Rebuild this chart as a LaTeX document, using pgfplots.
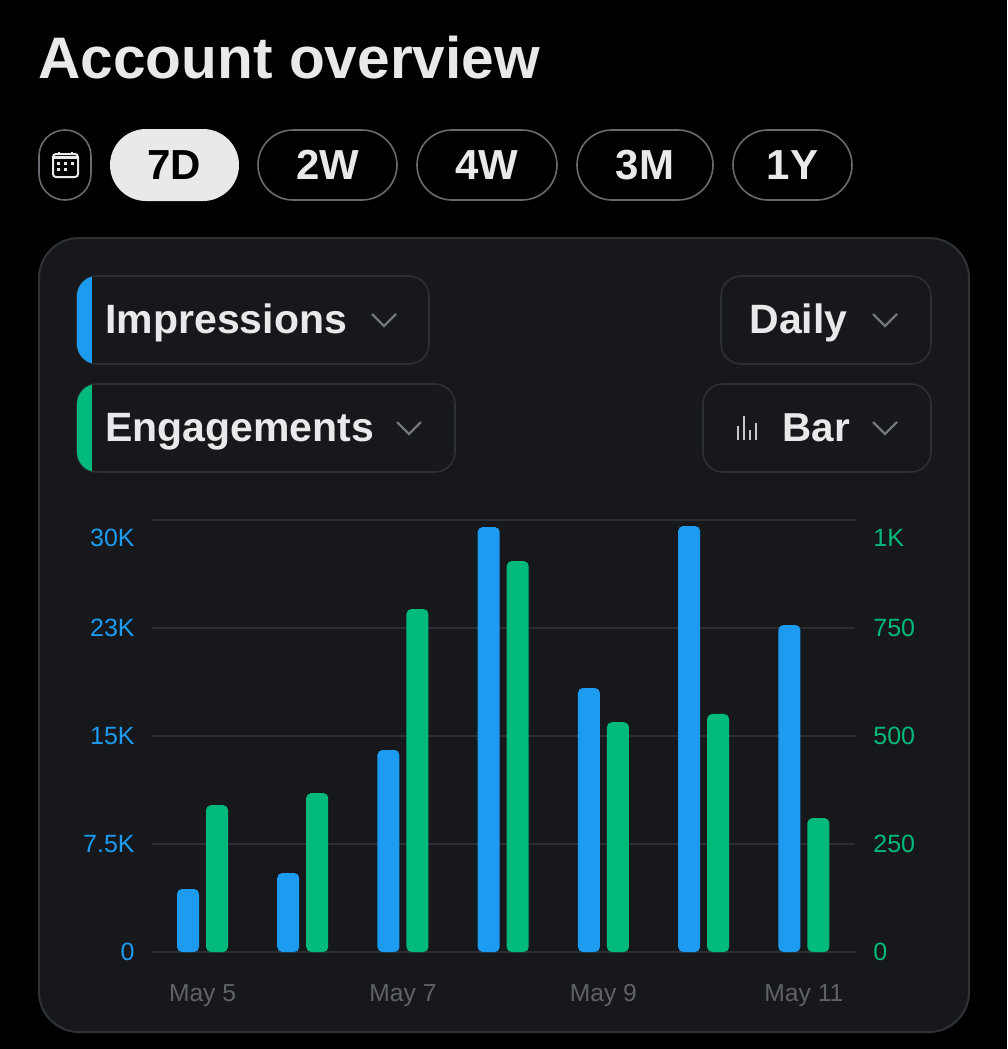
\documentclass[border=0pt]{standalone}
\usepackage{pgfplots}
\usepackage{fontspec}
\pgfplotsset{compat=1.18}
\setmainfont{Liberation Sans}
\definecolor{tw}{HTML}{E7E9EA}
\definecolor{card}{HTML}{16181C}
\definecolor{bord}{HTML}{2F3336}
\definecolor{ddb}{HTML}{2C2F33}
\definecolor{gridc}{HTML}{2B2E32}
\definecolor{pillb}{HTML}{686C70}
\definecolor{chev}{HTML}{71767B}
\definecolor{icon}{HTML}{C4C6C8}
\definecolor{xblue}{HTML}{1D9BF0}
\definecolor{xgreen}{HTML}{00BA7C}
\definecolor{xtick}{HTML}{5F6368}
\newcommand{\ui}[1]{\fontsize{#1}{#1}\selectfont}
\begin{document}
\begin{tikzpicture}
\begin{scope}[x=0.5pt,y=-0.5pt]
\fill[black] (0,0) rectangle (1007,1049);
\node[anchor=base west,inner sep=0pt,text=tw] at (38,78) {\bfseries\ui{29.3pt}Account overview};
% range pills
\draw[pillb,line width=0.8pt,rounded corners=13pt] (39,130) rectangle (91,200);
\fill[tw,rounded corners=18pt] (110,129) rectangle (239,201);
\foreach \a/\b/\t in {258/397/2W,417/557/4W,577/713/3M,733/852/1Y}{
  \draw[pillb,line width=0.8pt,rounded corners=17.5pt] (\a,130) rectangle (\b,200);
  \node[text=tw,inner sep=0pt] at ({(\a+\b)/2},165) {\bfseries\ui{21pt}\t};
}
\node[text=black,inner sep=0pt] at (174,165) {\bfseries\ui{21pt}7D};
% calendar icon
\draw[tw,line width=1pt,rounded corners=1.5pt] (53,154) rectangle (78,177);
\draw[tw,line width=1.6pt] (53,157.5) -- (78,157.5);
\draw[tw,line width=1pt] (59,151.5) -- (59,155) (72,151.5) -- (72,155);
\foreach \x/\y in {58.5/163.5,65.5/163.5,72.5/163.5,58.5/169.5,65.5/169.5}{\fill[tw] (\x-1.7,\y-1.7) rectangle (\x+1.7,\y+1.7);}
% card
\draw[bord,fill=card,line width=1pt,rounded corners=20pt] (39,238) rectangle (969,1032);
% dropdowns
\foreach \a/\b/\c/\d in {77/429/276/364,77/455/384/472,721/931/276/364,703/931/384/472}{
  \draw[ddb,line width=0.8pt,rounded corners=10pt] (\a,\c) rectangle (\b,\d);
}
\begin{scope}
\clip[rounded corners=10pt] (77,276) rectangle (429,364);
\fill[xblue] (77,276) rectangle (92,364);
\end{scope}
\begin{scope}
\clip[rounded corners=10pt] (77,384) rectangle (455,472);
\fill[xgreen] (77,384) rectangle (92,472);
\end{scope}
\node[anchor=base west,inner sep=0pt,text=tw] at (105,333) {\bfseries\ui{20.5pt}Impressions};
\node[anchor=base west,inner sep=0pt,text=tw] at (105,441) {\bfseries\ui{20.5pt}Engagements};
\node[anchor=base west,inner sep=0pt,text=tw] at (749,333) {\bfseries\ui{20.5pt}Daily};
\node[anchor=base west,inner sep=0pt,text=tw] at (782,441) {\bfseries\ui{20.2pt}Bar};
\foreach \x/\y in {384/320,409/428,885/320,885/428}{
  \draw[chev,line width=1.1pt] (\x-12,\y-6) -- (\x,\y+6) -- (\x+12,\y-6);
}
\foreach \x/\t in {737.5/426,743.5/416,749.5/430,755.5/423}{
  \draw[icon,line width=1pt] (\x,439.5) -- (\x,\t);
}
\end{scope}
\begin{axis}[
  at={(76pt,-476pt)},anchor=south west,scale only axis,
  width=351.5pt,height=216pt,clip=false,
  xmin=-0.504,xmax=6.51,ymin=0,ymax=30000,
  scaled y ticks=false,
  axis line style={draw=none},major tick length=0pt,
  ytick={0,7500,15000,22500,30000},
  yticklabels={0,7.5K,15K,23K,},
  extra y ticks={28750},extra y tick labels={30K},
  extra tick style={grid=none},
  ymajorgrids,grid style={gridc,line width=1.25pt},
  yticklabel style={font=\ui{12.5pt},text=xblue,anchor=east,inner sep=0pt},
  yticklabel shift=8.5pt,
  xtick={0,2,4,6},xticklabels={May 5,May 7,May 9,May 11},
  xticklabel style={font=\ui{12.3pt},text=xtick,anchor=center,inner sep=0pt,text height=9pt,text depth=3pt},
  xticklabel shift=21.5pt,
  ybar,bar width=11pt,bar shift=-7.25pt,
]
\addplot[fill=xblue,draw=none,rounded corners=2.5pt] coordinates {
(0,4375)(1,5486)(2,14028)(3,29514)(4,18333)(5,29583)(6,22708)};
\end{axis}
\begin{axis}[
  at={(76pt,-476pt)},anchor=south west,scale only axis,
  width=351.5pt,height=216pt,clip=false,
  xmin=-0.504,xmax=6.51,ymin=0,ymax=1000,
  scaled y ticks=false,
  axis line style={draw=none},major tick length=0pt,
  xtick=\empty,
  yticklabel pos=right,
  ytick={0,250,500,750,1000},
  yticklabels={0,250,500,750,},
  extra y ticks={958},extra y tick labels={1K},
  yticklabel style={font=\ui{12.5pt},text=xgreen,anchor=west,inner sep=0pt},
  yticklabel shift=9pt,
  ybar,bar width=11pt,bar shift=7.25pt,
]
\addplot[fill=xgreen,draw=none,rounded corners=2.5pt] coordinates {
(0,340)(1,368)(2,794)(3,905)(4,532)(5,551)(6,310)};
\end{axis}
\end{tikzpicture}
\end{document}
